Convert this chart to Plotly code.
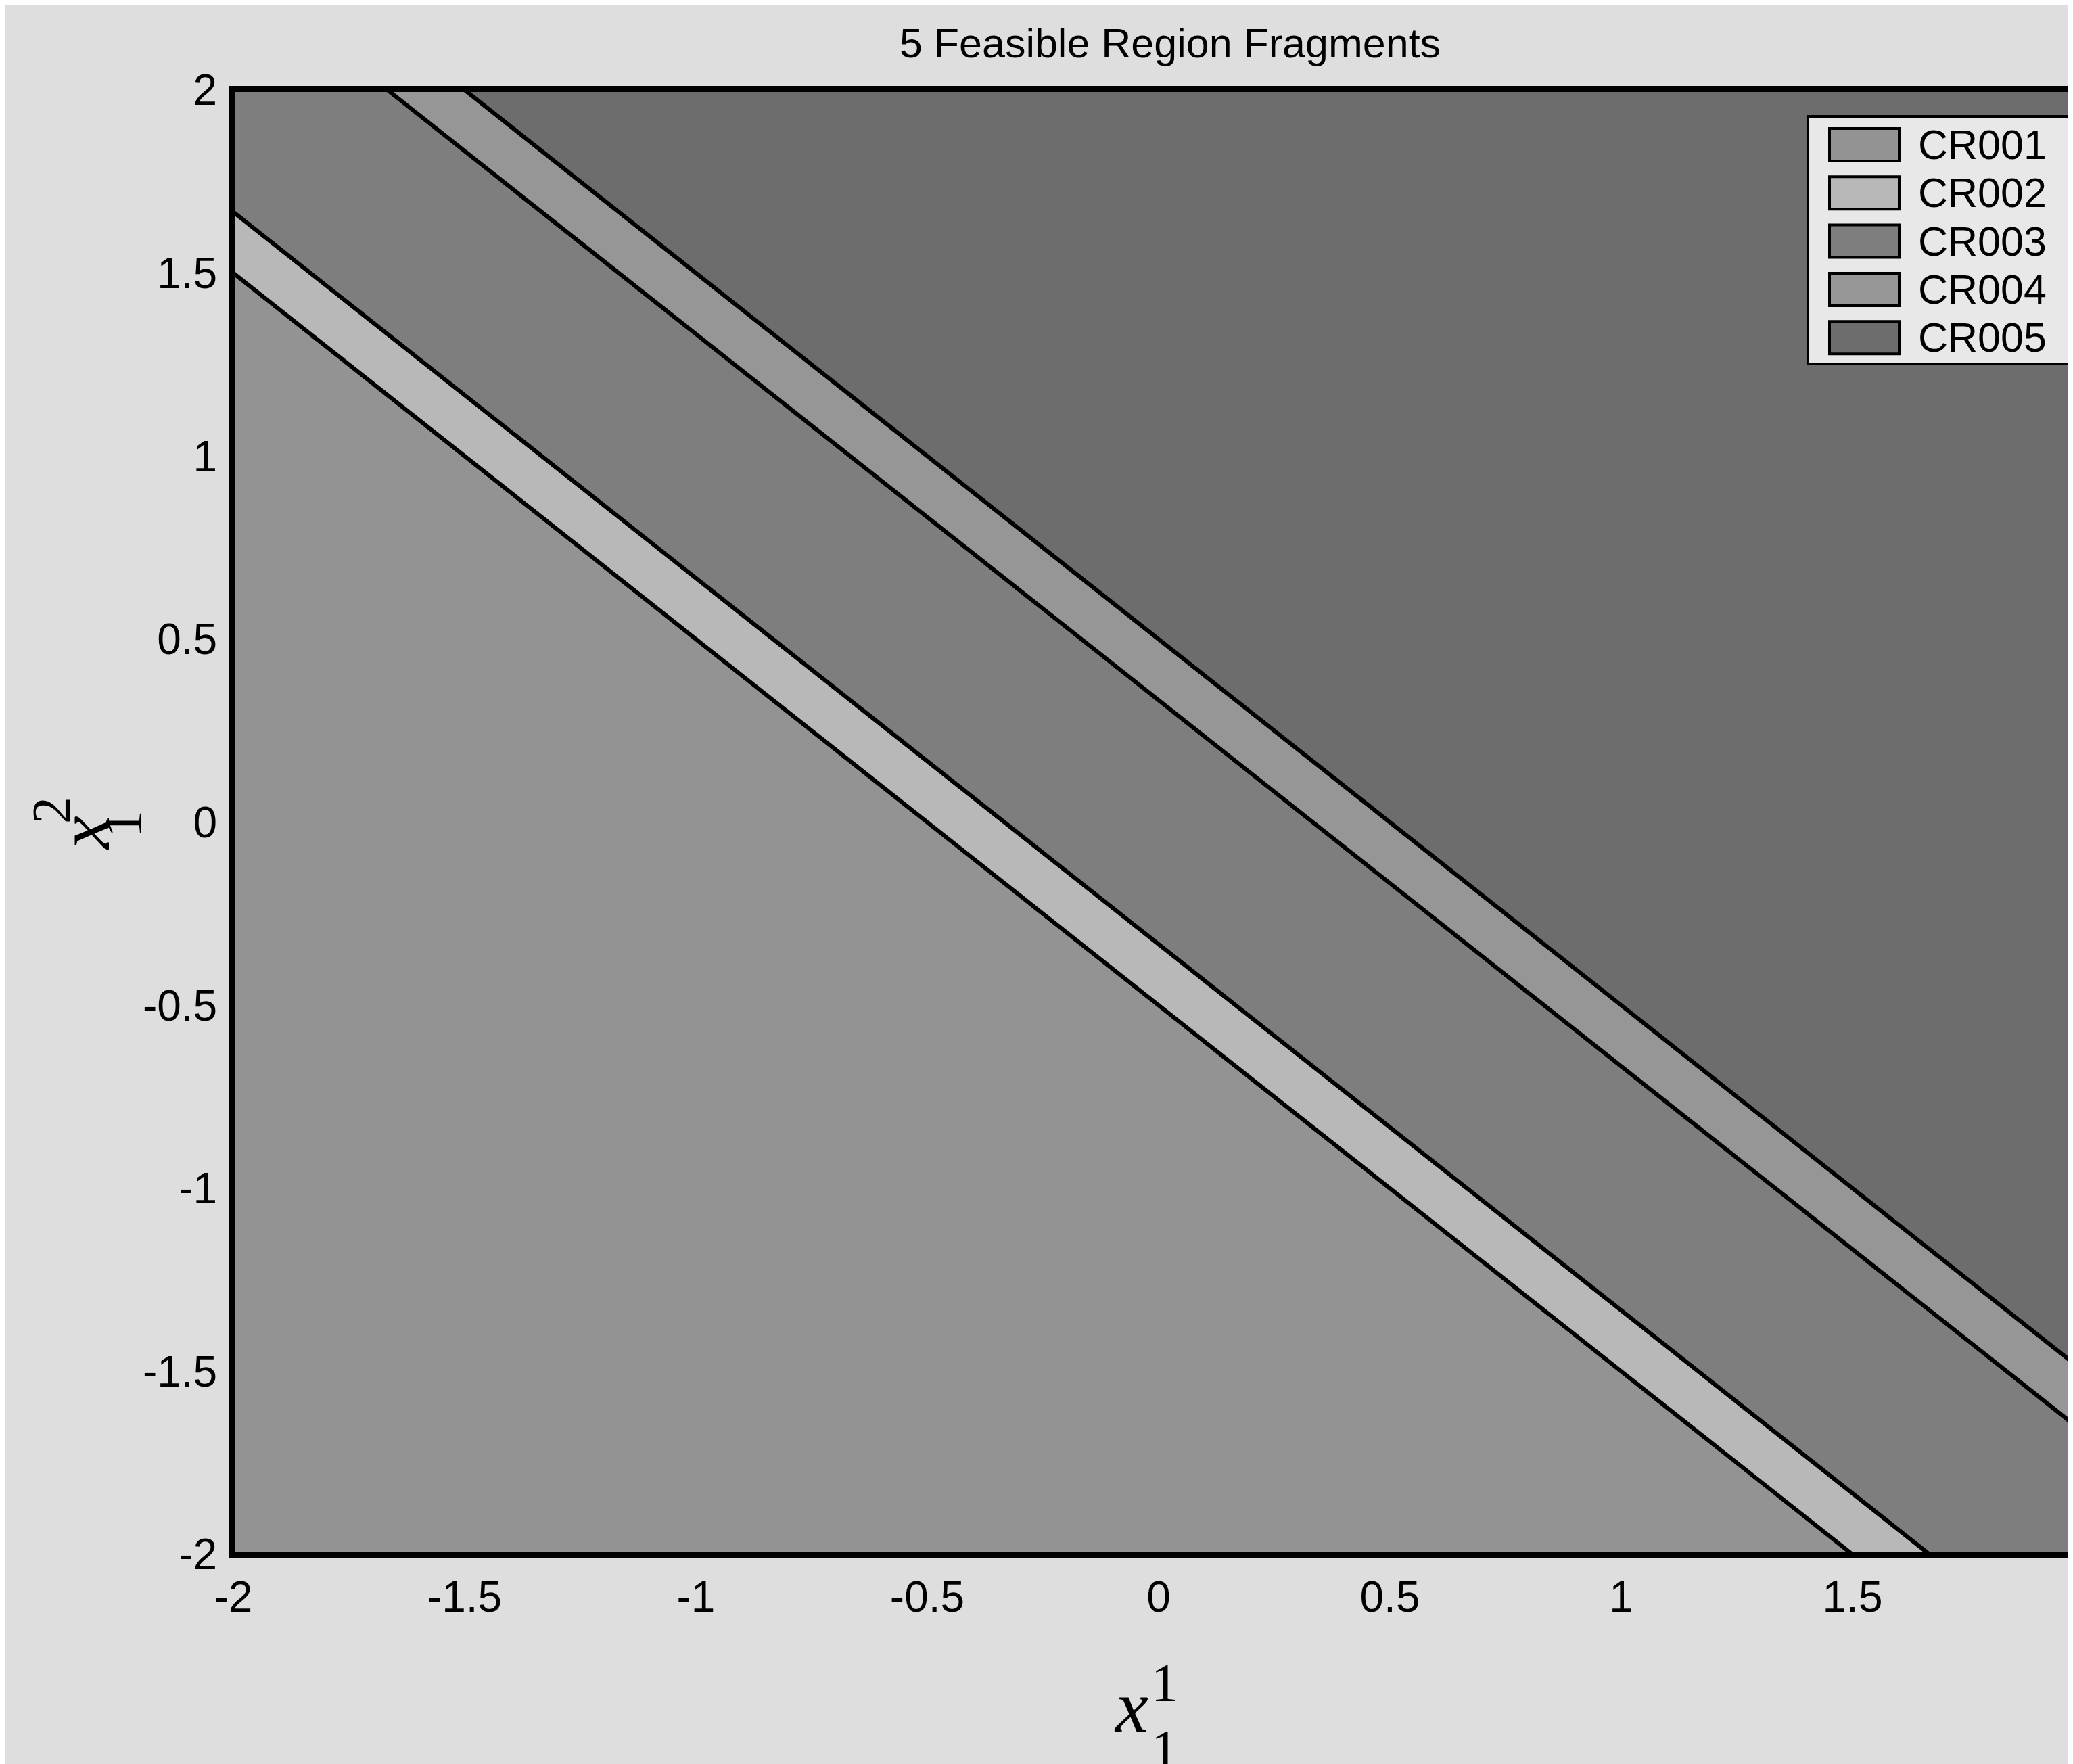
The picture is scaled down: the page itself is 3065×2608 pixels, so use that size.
import plotly.graph_objects as go

# ---------------- data ----------------
regions = ["CR001", "CR002", "CR003", "CR004", "CR005"]
boundaries = [-0.5, -1/3, 1/3, 0.5]          # region borders: x1 + x2 = c
fill_colors = ["#939393", "#b8b8b8", "#7e7e7e", "#969696", "#6d6d6d"]
box = [-2, 2]                                  # parameter box for both x1 and x2
x_tick_vals = [-2, -1.5, -1, -0.5, 0, 0.5, 1, 1.5, 2]
x_tick_text = ["-2", "-1.5", "-1", "-0.5", "0", "0.5", "1", "1.5", "2"]
y_tick_vals = [-2, -1.5, -1, -0.5, 0, 0.5, 1, 1.5, 2]
y_tick_text = ["-2", "-1.5", "-1", "-0.5", "0", "0.5", "1", "1.5", "2"]
title_text = "5 Feasible Region Fragments"

# ---------------- geometry helpers ----------------
W, H = 3065, 2608
L, R, T, B = 337, 0, 125, 318
PW, PH = W - L - R, H - T - B


def px_x(px):
    return (px - L) / PW


def px_y(py):
    return (H - B - py) / PH


def clip(poly, a, b, c):
    """keep part of polygon with a*x + b*y <= c"""
    out = []
    n = len(poly)
    for i in range(n):
        P, Q = poly[i], poly[(i + 1) % n]
        fp = a * P[0] + b * P[1] - c
        fq = a * Q[0] + b * Q[1] - c
        if fp <= 0:
            out.append(P)
        if fp * fq < 0:
            t = fp / (fp - fq)
            out.append((P[0] + t * (Q[0] - P[0]), P[1] + t * (Q[1] - P[1])))
    return out


square = [(box[0], box[0]), (box[1], box[0]), (box[1], box[1]), (box[0], box[1])]

fig = go.Figure()
for k, name in enumerate(regions):
    poly = list(square)
    if k > 0:
        poly = clip(poly, -1, -1, -boundaries[k - 1])
    if k < len(regions) - 1:
        poly = clip(poly, 1, 1, boundaries[k])
    xs = [p[0] for p in poly] + [poly[0][0]]
    ys = [p[1] for p in poly] + [poly[0][1]]
    fig.add_trace(go.Scatter(
        x=xs, y=ys, mode="lines", fill="toself", fillcolor=fill_colors[k],
        line=dict(color="black", width=6), name=name, showlegend=False,
        hoverinfo="name"))

# x-range ends where the reference image is cropped
x_right = box[0] + (box[1] - box[0]) * (W - L) / (3073 - L)

fig.update_layout(
    width=W, height=H, autosize=False,
    margin=dict(l=L, r=R, t=T, b=B),
    paper_bgcolor="#dedede", plot_bgcolor="#dedede",
    font=dict(family="Liberation Sans, Arial, sans-serif", size=64, color="black"),
    title=dict(text=title_text, xref="paper", x=px_x(1722), xanchor="center",
               yref="container", y=1 - 56 / H, yanchor="middle",
               font=dict(size=61, color="black")),
    xaxis=dict(range=[box[0], x_right], tickvals=x_tick_vals, ticktext=x_tick_text,
               showline=True, linecolor="black", linewidth=6, mirror=True,
               showgrid=False, zeroline=False, ticks="", ticklabelstandoff=2,
               fixedrange=True),
    yaxis=dict(range=box, tickvals=y_tick_vals, ticktext=y_tick_text,
               showline=True, linecolor="black", linewidth=6, mirror=False,
               showgrid=False, zeroline=False, ticks="", ticklabelstandoff=5,
               fixedrange=True),
    showlegend=False,
)

# ---------------- custom legend ----------------
shapes = [dict(type="rect", xref="paper", yref="paper",
               x0=px_x(2665), x1=px_x(3059), y0=px_y(530), y1=px_y(164),
               fillcolor="#e8e8e8", line=dict(color="black", width=4), layer="above")]
annotations = []
row0, step = 206, 71.3
for k, name in enumerate(regions):
    cy = row0 + k * step
    shapes.append(dict(type="rect", xref="paper", yref="paper",
                       x0=px_x(2697), x1=px_x(2800), y0=px_y(cy + 24), y1=px_y(cy - 24),
                       fillcolor=fill_colors[k], line=dict(color="black", width=4),
                       layer="above"))
    annotations.append(dict(text=name, xref="paper", yref="paper", x=px_x(2826), y=px_y(cy),
                            xanchor="left", yanchor="middle", showarrow=False,
                            font=dict(size=61, color="black")))

# ---------------- axis labels (x_1^1, x_1^2) ----------------
serif = "Liberation Serif, Times New Roman, serif"
annotations += [
    dict(text="<i>x</i>", xref="paper", yref="paper", x=px_x(1664), y=px_y(2515),
         xanchor="center", yanchor="middle", showarrow=False, font=dict(family=serif, size=110)),
    dict(text="1", xref="paper", yref="paper", x=px_x(1714), y=px_y(2480),
         xanchor="center", yanchor="middle", showarrow=False, font=dict(family=serif, size=80)),
    dict(text="1", xref="paper", yref="paper", x=px_x(1714), y=px_y(2578),
         xanchor="center", yanchor="middle", showarrow=False, font=dict(family=serif, size=80)),
    dict(text="<i>x</i>", xref="paper", yref="paper", x=px_x(116), y=px_y(1224),
         xanchor="center", yanchor="middle", showarrow=False, textangle=-90,
         font=dict(family=serif, size=110)),
    dict(text="2", xref="paper", yref="paper", x=px_x(68), y=px_y(1190),
         xanchor="center", yanchor="middle", showarrow=False, textangle=-90,
         font=dict(family=serif, size=80)),
    dict(text="1", xref="paper", yref="paper", x=px_x(174), y=px_y(1210),
         xanchor="center", yanchor="middle", showarrow=False, textangle=-90,
         font=dict(family=serif, size=80)),
]

fig.update_layout(shapes=shapes, annotations=annotations)
fig.write_html("out.html")
